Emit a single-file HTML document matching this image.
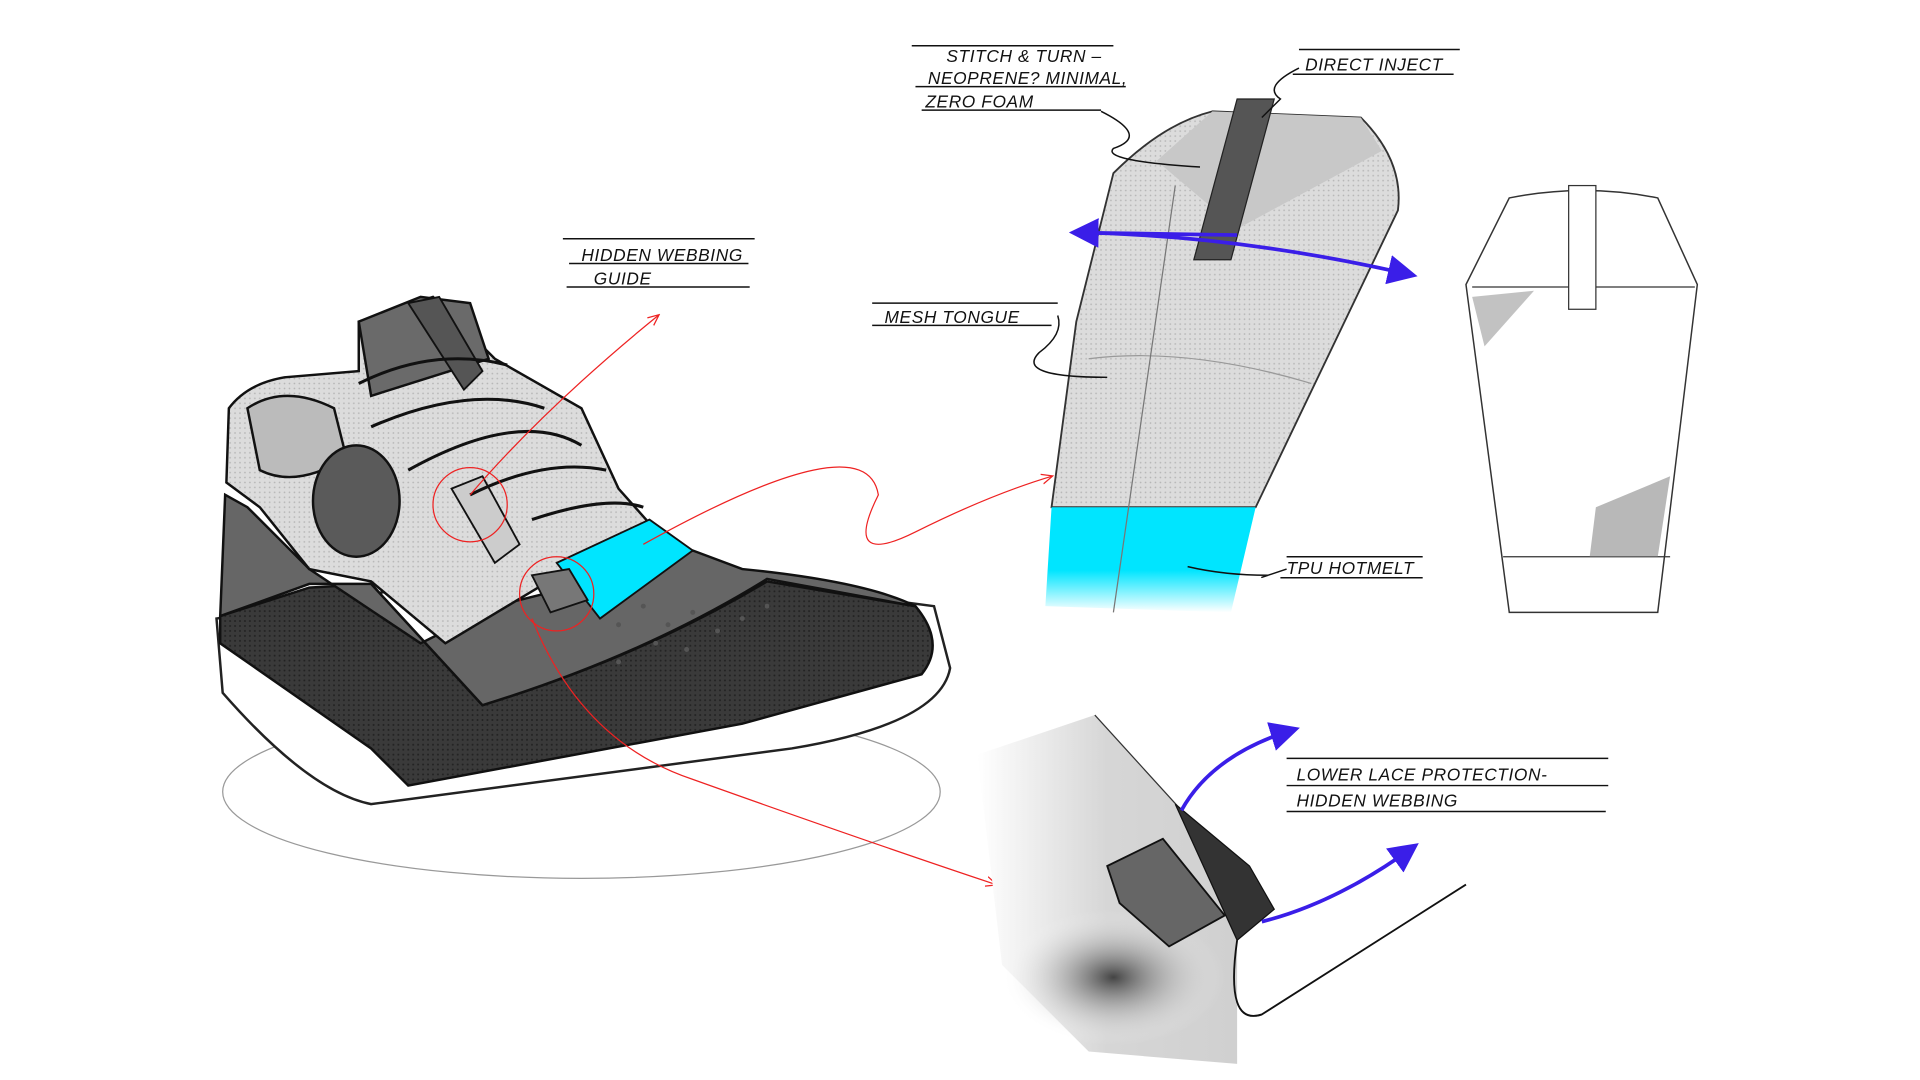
<!DOCTYPE html>
<html><head><meta charset="utf-8"><style>
html,body{margin:0;padding:0;background:#fff;width:1920px;height:1080px;overflow:hidden}
svg{display:block}
text{font-family:"Liberation Sans",sans-serif;font-size:14px;fill:#111;font-style:italic;letter-spacing:0.5px}
</style></head><body>
<svg width="1920" height="1080" viewBox="0 0 1552 873" preserveAspectRatio="none" xmlns="http://www.w3.org/2000/svg">
<defs>
<pattern id="dots" width="4" height="4" patternUnits="userSpaceOnUse"><rect width="4" height="4" fill="#dcdcdc"/><circle cx="2" cy="2" r="0.7" fill="#b5b5b5"/></pattern>
<pattern id="ddots" width="4" height="4" patternUnits="userSpaceOnUse"><rect width="4" height="4" fill="#3a3a3a"/><circle cx="2" cy="2" r="0.8" fill="#222"/></pattern>
<linearGradient id="cy" x1="0" y1="0" x2="0" y2="1"><stop offset="0" stop-color="#00e5ff"/><stop offset="0.6" stop-color="#00e5ff"/><stop offset="1" stop-color="#fff"/></linearGradient>
<linearGradient id="dg" x1="0" y1="0" x2="1" y2="0"><stop offset="0" stop-color="#fff"/><stop offset="0.5" stop-color="#d6d6d6"/><stop offset="1" stop-color="#d0d0d0"/></linearGradient>
<radialGradient id="sh" cx="0.5" cy="0.5" r="0.5"><stop offset="0" stop-color="#444"/><stop offset="1" stop-color="#fff" stop-opacity="0"/></radialGradient>
<marker id="ab" markerWidth="8" markerHeight="8" refX="6" refY="4" orient="auto"><path d="M0,0 L8,4 L0,8z" fill="#3a1ee8"/></marker>
<marker id="ar" markerWidth="10" markerHeight="10" refX="8" refY="5" orient="auto"><path d="M0,1 L9,5 L0,9" fill="none" stroke="#e22" stroke-width="1"/></marker>
</defs>

<!-- SHOE -->
<ellipse cx="470" cy="640" rx="290" ry="70" fill="none" stroke="#999" stroke-width="1"/>
<path d="M175,500 L180,560 Q250,640 300,650 L640,605 Q760,585 768,540 L755,490 Q600,470 460,455 Z" fill="#fff" stroke="#222" stroke-width="2"/>
<path d="M178,498 L250,475 L300,472 L390,570 Q520,530 620,470 L740,490 Q765,520 745,545 L600,585 L330,635 L300,605 L178,520 Z" fill="url(#ddots)" stroke="#111" stroke-width="2"/>
<path d="M182,400 Q180,450 178,498 L250,472 L300,472 L390,570 Q520,530 620,468 L740,490 Q700,470 600,460 L560,445 L480,470 L400,490 L340,520 L250,460 L200,410 Z" fill="#666" stroke="#111" stroke-width="2"/>
<path d="M185,330 Q200,310 230,305 L290,300 L290,260 L350,240 L400,290 L470,330 L500,395 L540,440 L460,460 L360,520 L300,470 L250,460 L210,410 L183,390 Z" fill="url(#dots)" stroke="#111" stroke-width="2"/>
<path d="M290,260 L340,240 L380,245 L395,290 L300,320 Z" fill="#6a6a6a" stroke="#111" stroke-width="2"/>
<path d="M330,245 L355,240 L390,300 L375,315 Z" fill="#555" stroke="#111" stroke-width="1.5"/>
<path d="M200,330 Q230,310 270,330 L280,370 Q240,395 210,380 Z" fill="#bbb" stroke="#111" stroke-width="2"/>
<ellipse cx="288" cy="405" rx="35" ry="45" fill="#5a5a5a" stroke="#111" stroke-width="2"/>
<path d="M450,455 L525,420 L560,445 L485,500 Z" fill="#00e5ff" stroke="#111" stroke-width="1.5"/>
<path d="M365,395 L390,385 L420,440 L400,455 Z" fill="#ccc" stroke="#111" stroke-width="1.5"/>
<path d="M430,465 L460,460 L475,485 L445,495 Z" fill="#777" stroke="#111" stroke-width="1.5"/>
<path d="M300,345 Q380,310 440,330 M330,380 Q420,330 470,360 M380,400 Q440,370 490,380 M430,420 Q490,400 520,410 M290,310 Q350,280 410,295" fill="none" stroke="#111" stroke-width="2.5"/>
<circle cx="380" cy="408" r="30" fill="none" stroke="#e22" stroke-width="1"/>
<circle cx="450" cy="480" r="30" fill="none" stroke="#e22" stroke-width="1"/>
<path d="M380,400 Q440,330 532,255" fill="none" stroke="#e22" stroke-width="1" marker-end="url(#ar)"/>
<path d="M520,440 Q700,340 710,400 Q680,460 740,430 Q800,400 850,385" fill="none" stroke="#e22" stroke-width="1" marker-end="url(#ar)"/>
<path d="M430,500 Q470,600 560,630 Q700,680 805,715" fill="none" stroke="#e22" stroke-width="1" marker-end="url(#ar)"/>
<g fill="#555"><circle cx="520" cy="490" r="2"/><circle cx="540" cy="505" r="2"/><circle cx="560" cy="495" r="2"/><circle cx="580" cy="510" r="2"/><circle cx="600" cy="500" r="2"/><circle cx="530" cy="520" r="2"/><circle cx="555" cy="525" r="2"/><circle cx="500" cy="535" r="2"/><circle cx="620" cy="490" r="2"/><circle cx="500" cy="505" r="2"/></g>

<!-- TONGUE -->
<path d="M900,140 Q940,100 980,90 L1100,95 Q1135,130 1130,170 L1015,410 L850,410 L870,260 Z" fill="url(#dots)" stroke="#333" stroke-width="1.5"/>
<path d="M935,130 L980,90 L1100,95 L1117,122 L1000,185 Z" fill="#c8c8c8"/>
<path d="M1000,80 L1030,80 L995,210 L965,210 Z" fill="#555" stroke="#222"/>
<path d="M880,290 Q960,280 1060,310" fill="none" stroke="#999"/>
<path d="M850,410 L1015,410 L995,495 L845,490 Z" fill="url(#cy)"/>
<line x1="950" y1="150" x2="900" y2="495" stroke="#777"/>
<path d="M870,188 Q1000,190 1140,222" fill="none" stroke="#3a1ee8" stroke-width="3" marker-end="url(#ab)"/>
<path d="M1000,190 L870,188" fill="none" stroke="#3a1ee8" stroke-width="3" marker-end="url(#ab)"/>

<!-- RIGHT OUTLINE -->
<path d="M1220,160 Q1280,148 1340,160 L1372,230 L1340,495 L1220,495 L1185,230 Z" fill="none" stroke="#333" stroke-width="1.2"/>
<line x1="1190" y1="232" x2="1370" y2="232" stroke="#333"/>
<line x1="1215" y1="450" x2="1350" y2="450" stroke="#333"/>
<rect x="1268" y="150" width="22" height="100" fill="#fff" stroke="#333"/>
<path d="M1190,240 L1240,235 L1200,280 Z" fill="#999" opacity="0.6"/>
<path d="M1290,410 L1350,385 L1340,450 L1285,450 Z" fill="#888" opacity="0.6"/>

<!-- DETAIL -->
<path d="M790,610 L885,578 L955,655 L1000,760 L1000,860 L880,850 L810,780 Z" fill="url(#dg)"/>
<ellipse cx="900" cy="790" rx="90" ry="55" fill="url(#sh)"/>
<path d="M885,578 L955,655" stroke="#333" fill="none"/>
<path d="M950,650 L1010,700 L1030,735 L1000,760 Z" fill="#333" stroke="#111"/>
<path d="M895,700 L940,678 L990,740 L945,765 L905,730 Z" fill="#666" stroke="#111" stroke-width="1.5"/>
<path d="M1000,760 Q990,830 1020,820 L1185,715" fill="none" stroke="#111" stroke-width="1.5"/>
<path d="M955,655 Q980,610 1045,590" fill="none" stroke="#3a1ee8" stroke-width="3" marker-end="url(#ab)"/>
<path d="M1020,745 Q1080,730 1142,685" fill="none" stroke="#3a1ee8" stroke-width="3" marker-end="url(#ab)"/>

<!-- LABELS -->
<g stroke="#111" stroke-width="1.2" fill="none">
<line x1="737" y1="37" x2="900" y2="37"/><line x1="740" y1="70" x2="910" y2="70"/><line x1="745" y1="89" x2="890" y2="89"/>
<line x1="1050" y1="40" x2="1180" y2="40"/><line x1="1045" y1="60" x2="1175" y2="60"/>
<line x1="455" y1="193" x2="610" y2="193"/><line x1="460" y1="213" x2="605" y2="213"/><line x1="458" y1="232" x2="606" y2="232"/>
<line x1="705" y1="245" x2="855" y2="245"/><line x1="705" y1="263" x2="850" y2="263"/>
<line x1="1040" y1="450" x2="1150" y2="450"/><line x1="1035" y1="467" x2="1150" y2="467"/>
<line x1="1040" y1="613" x2="1300" y2="613"/><line x1="1040" y1="635" x2="1300" y2="635"/><line x1="1040" y1="656" x2="1298" y2="656"/>
<path d="M890,90 Q930,110 900,120 Q890,130 970,135"/>
<path d="M1050,55 Q1020,70 1035,80 L1020,95"/>
<path d="M855,255 Q860,270 840,285 Q820,305 895,305"/>
<path d="M1040,460 Q1010,470 1025,465 Q990,465 960,458"/>
</g>
<text x="765" y="50">STITCH &amp; TURN –</text>
<text x="750" y="68">NEOPRENE? MINIMAL,</text>
<text x="748" y="87">ZERO FOAM</text>
<text x="1055" y="57">DIRECT INJECT</text>
<text x="470" y="211">HIDDEN WEBBING</text>
<text x="480" y="230">GUIDE</text>
<text x="715" y="261">MESH TONGUE</text>
<text x="1040" y="464">TPU HOTMELT</text>
<text x="1048" y="631">LOWER LACE PROTECTION-</text>
<text x="1048" y="652">HIDDEN WEBBING</text>
</svg>
</body></html>
